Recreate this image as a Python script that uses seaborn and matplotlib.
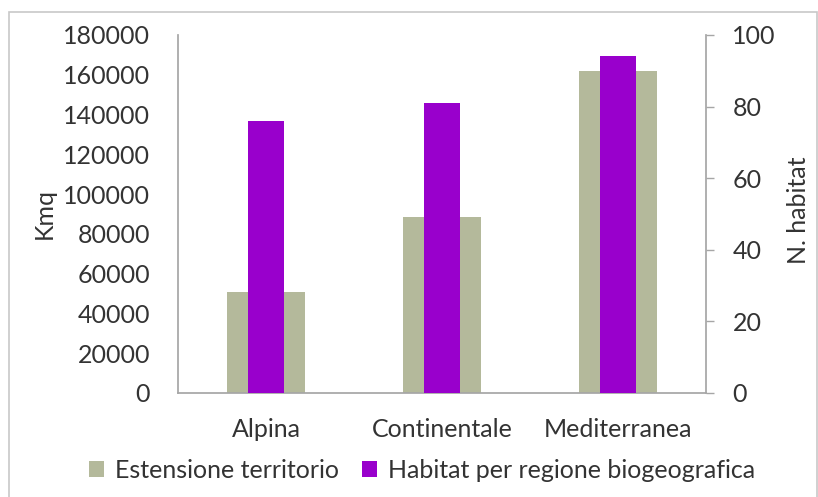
import matplotlib
matplotlib.use("Agg")
import matplotlib.pyplot as plt
import seaborn as sns
from matplotlib.patches import Patch, Rectangle

# Biogeographic regions of Italy
regioni = ["Alpina", "Continentale", "Mediterranea"]
estensione_kmq = [51000, 88500, 162000]     # territory extent, km²
n_habitat = [76, 81, 94]                    # habitat count per region
kmq_ticks = [0, 20000, 40000, 60000, 80000, 100000, 120000, 140000, 160000, 180000]
habitat_ticks = [0, 20, 40, 60, 80, 100]

GREY = "#b4b99b"
PURPLE = "#9900cc"
TEXT = "#333333"
AXIS = "#a6a6a6"
FS = 18

sns.set_theme(style="white")
plt.rcParams["font.family"] = ["Lato", "DejaVu Sans"]
plt.rcParams["font.size"] = FS
plt.rcParams["text.color"] = TEXT

W, H = 818, 497
fig = plt.figure(figsize=(W / 100, H / 100), dpi=100)
left, right, top, bottom = 178, 706, 35, 393
ax = fig.add_axes([left / W, (H - bottom) / H, (right - left) / W, (bottom - top) / H])

sns.barplot(x=regioni, y=estensione_kmq, ax=ax, color=GREY, width=0.44,
            saturation=1, edgecolor="none")
ax.set_ylim(0, 180000)
ax.set_yticks(kmq_ticks)
ax.set_yticklabels([str(v) for v in kmq_ticks])
ax.set_xlim(-0.5, 2.5)
ax.set_xlabel("")
ax.set_ylabel("")

ax2 = ax.twinx()
sns.barplot(x=regioni, y=n_habitat, ax=ax2, color=PURPLE, width=0.21,
            saturation=1, edgecolor="none")
ax2.set_ylim(0, 100)
ax2.set_yticks(habitat_ticks)
ax2.set_yticklabels([str(v) for v in habitat_ticks])
ax2.set_xlim(-0.5, 2.5)
ax2.set_ylabel("")
ax2.set_xlabel("")

for a in (ax, ax2):
    for s in a.spines.values():
        s.set_visible(False)
    a.grid(False)
    a.set_facecolor("none")

ax.spines["left"].set_visible(True)
ax.spines["left"].set_color(AXIS)
ax.spines["bottom"].set_visible(True)
ax.spines["bottom"].set_color(AXIS)
ax2.spines["right"].set_visible(True)
ax2.spines["right"].set_color(AXIS)

ax.tick_params(axis="y", length=0, pad=20, labelcolor=TEXT, labelsize=FS)
ax.tick_params(axis="x", length=0, pad=18, labelcolor=TEXT, labelsize=FS)
ax2.tick_params(axis="y", direction="out", length=6, width=1, color=AXIS,
                pad=13, labelcolor=TEXT, labelsize=FS)

fig.text(44 / W, 1 - 214 / H, "Kmq", rotation=90, ha="center", va="center",
         color=TEXT, fontsize=FS)
fig.text(798 / W, 1 - 210 / H, "N. habitat", rotation=90, ha="center", va="center",
         color=TEXT, fontsize=FS)

handles = [Patch(facecolor=GREY, edgecolor="none", label="Estensione territorio"),
           Patch(facecolor=PURPLE, edgecolor="none", label="Habitat per regione biogeografica")]
fig.legend(handles=handles, loc="center", bbox_to_anchor=(422 / W, 1 - 470 / H),
           ncol=2, frameon=False, handlelength=0.6, handleheight=0.6,
           handletextpad=0.45, columnspacing=0.9, fontsize=FS, labelcolor=TEXT)

# chart area frame
fig.patches.append(Rectangle((9 / W, -0.05), (817 - 9) / W, (H - 12) / H + 0.05,
                             transform=fig.transFigure, fill=False,
                             edgecolor="#c8c8c8", linewidth=1.2))

fig.savefig("out.png", dpi=100, facecolor="white")
